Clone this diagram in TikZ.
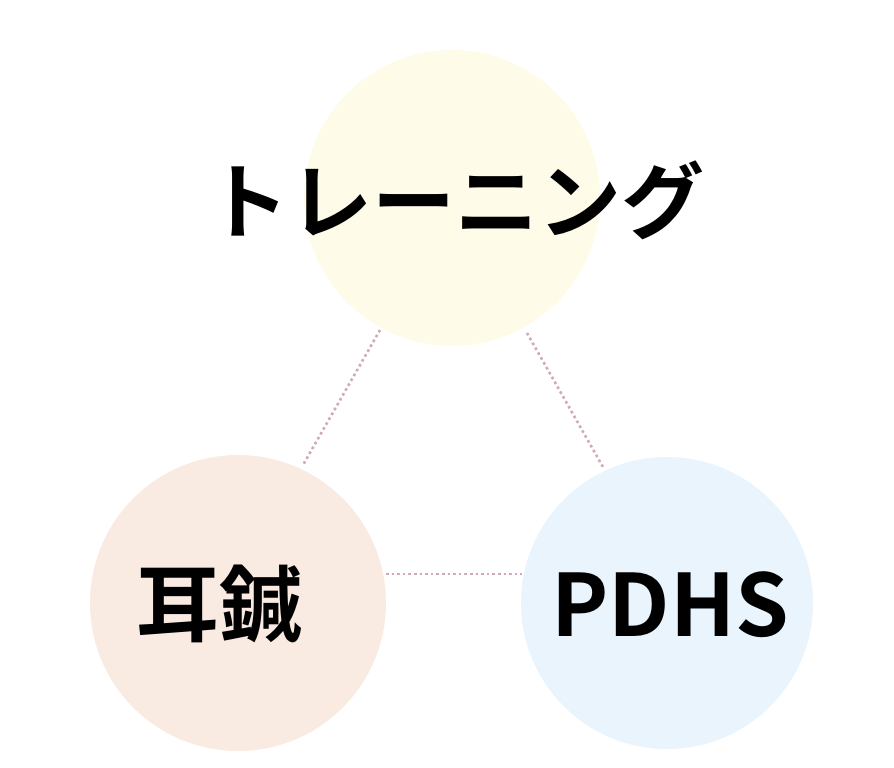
\documentclass[tikz,border=0pt]{standalone}
\usepackage{fontspec}
\newfontfamily\cjk{Noto Sans CJK JP Bold}
\definecolor{cy}{HTML}{FEFCE9}
\definecolor{cp}{HTML}{F9EBE2}
\definecolor{cb}{HTML}{E9F4FC}
\definecolor{ln}{HTML}{D1A8BE}
\begin{document}
\begin{tikzpicture}[x=1pt,y=-1pt,
  circ/.style={circle,inner sep=0pt},
  lab/.style={font=\cjk\fontsize{83}{83}\selectfont},
  link/.style={draw=ln,line width=2.6pt,dash pattern=on 2.6pt off 3pt}]
\useasboundingbox (0,0) rectangle (894,768);
\fill[cy] (452,198) circle (148);
\fill[cp] (238,603) circle (148);
\fill[cb] (667,603) circle (146);
\node[lab] (t) at (455,200) {トレーニング};
\node[lab] (e) at (219,605) {耳鍼};
\node[lab,font=\cjk\fontsize{86}{86}\selectfont] (p) at (670,605) {PDHS};
\coordinate (a1) at (380,330); \coordinate (a2) at (303,465);
\coordinate (b1) at (527,333); \coordinate (b2) at (603,467);
\coordinate (c1) at (386,574); \coordinate (c2) at (522,574);
\draw[link] (a1) -- (a2);
\draw[link] (b1) -- (b2);
\draw[link] (c1) -- (c2);
\end{tikzpicture}
\end{document}
